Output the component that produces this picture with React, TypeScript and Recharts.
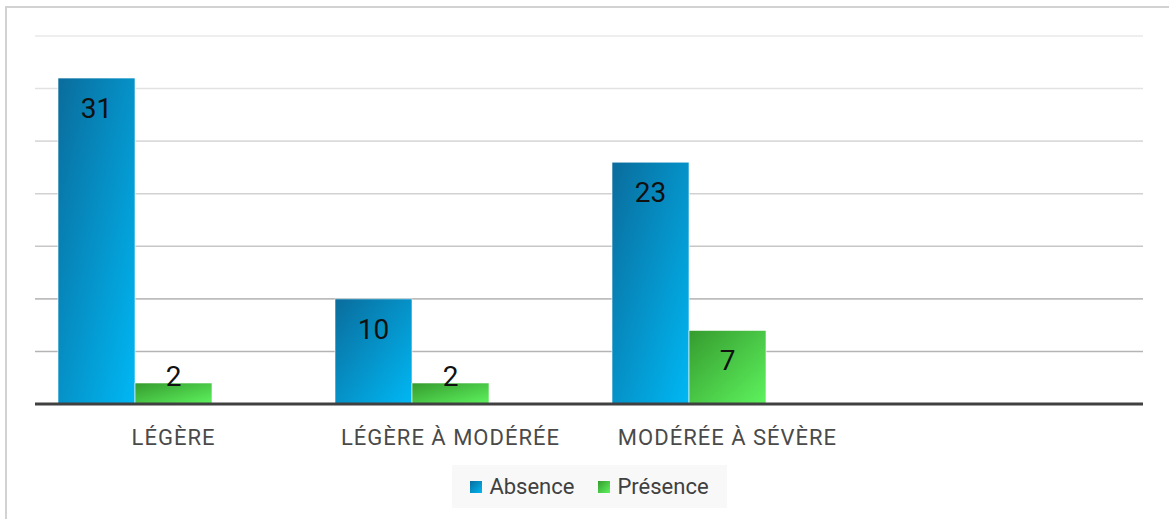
import { BarChart, Bar, XAxis, YAxis, ReferenceLine, LabelList } from "recharts";

const categories = ["LÉGÈRE", "LÉGÈRE À MODÉRÉE", "MODÉRÉE À SÉVÈRE", ""];
const absence = [31, 10, 23, null];
const presence = [2, 2, 7, null];
const gridTicks = [5, 10, 15, 20, 25, 30, 35];
const gridColors = ["#b4b4b4", "#bdbdbd", "#c7c7c7", "#d1d1d1", "#dadada", "#e2e2e2", "#e9e9e9"];

const series = [
  { key: "absence", name: "Absence", from: "#0a6c9c", to: "#00b8f4" },
  { key: "presence", name: "Présence", from: "#359b2e", to: "#5ef35e" },
];

const data = categories.map((c, i) => ({ name: c, absence: absence[i], presence: presence[i] }));

const FONT = "Roboto, 'Noto Sans', sans-serif";

function BarValue(props: any) {
  const { x, y, width, height, value } = props;
  if (value == null) return null;
  const cy = Math.min(y + 30, y + height - 28);
  return (
    <text x={x + width / 2} y={cy} dy="0.36em" textAnchor="middle" fontSize={28} fill="#111" fontFamily={FONT}>
      {value}
    </text>
  );
}

function CategoryTick(props: any) {
  const { x, y, payload } = props;
  return (
    <text
      x={x}
      y={y}
      dy={33}
      textAnchor="middle"
      fontSize={22}
      letterSpacing={1}
      fill="#4a4a4a"
      fontFamily={FONT}
    >
      {payload.value}
    </text>
  );
}

export default function App() {
  return (
    <div style={{ position: "absolute", left: 0, top: 0, width: 1169, height: 519, background: "#fff", overflow: "hidden" }}>
      <div
        style={{
          position: "absolute",
          left: 5,
          top: 6,
          width: 1200,
          height: 600,
          borderLeft: "2px solid #d2d2d2",
          borderTop: "2px solid #d2d2d2",
        }}
      />
      <div style={{ position: "absolute", left: 0, top: 0 }}>
        <BarChart
          width={1169}
          height={519}
          data={data}
          margin={{ top: 36, right: 26, left: 35, bottom: 85 }}
          barSize={77}
          barGap={0}
        >
          <defs>
            {series.map((s) => (
              <linearGradient key={s.key} id={`grad-${s.key}`} x1="0" y1="0" x2="1" y2="1">
                <stop offset="0%" stopColor={s.from} />
                <stop offset="100%" stopColor={s.to} />
              </linearGradient>
            ))}
          </defs>
          {gridTicks.map((t, i) => (
            <ReferenceLine key={t} y={t} stroke={gridColors[i]} strokeWidth={1.6} zIndex={-50} />
          ))}
          <YAxis hide domain={[0, 35]} ticks={gridTicks} />
          <XAxis
            dataKey="name"
            height={30}
            tickLine={false}
            axisLine={{ stroke: "#404040", strokeWidth: 3 }}
            tick={<CategoryTick />}
            interval={0}
          />
          {series.map((s) => (
            <Bar
              key={s.key}
              dataKey={s.key}
              name={s.name}
              fill={`url(#grad-${s.key})`}
              stroke="#ffffff"
              strokeOpacity={0.6}
              strokeWidth={1}
              isAnimationActive={false}
            >
              <LabelList dataKey={s.key} content={<BarValue />} />
            </Bar>
          ))}
          <Bar dataKey="spacer" legendType="none" fill="none" isAnimationActive={false} />
        </BarChart>
      </div>
      <div
        style={{
          position: "absolute",
          left: 452,
          top: 465,
          width: 275,
          height: 43,
          background: "#f8f8f8",
          display: "flex",
          alignItems: "center",
          justifyContent: "center",
          gap: 24,
          fontFamily: FONT,
          fontSize: 22,
          color: "#404040",
        }}
      >
        {series.map((s) => (
          <div key={s.key} style={{ display: "flex", alignItems: "center", gap: 7 }}>
            <span
              style={{
                display: "inline-block",
                width: 12,
                height: 12,
                background: `linear-gradient(135deg, ${s.from}, ${s.to})`,
              }}
            />
            <span>{s.name}</span>
          </div>
        ))}
      </div>
    </div>
  );
}
